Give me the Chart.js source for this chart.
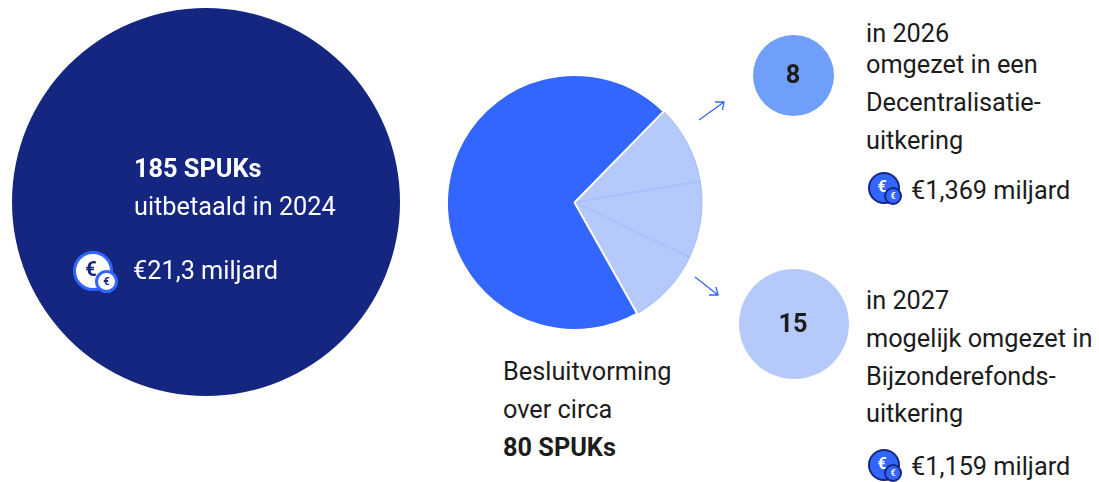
<!DOCTYPE html>
<html><head><meta charset="utf-8">
<script src="https://cdn.jsdelivr.net/npm/chart.js@4"></script>
<style>
html,body{margin:0;padding:0;background:#fff;width:1099px;height:482px;overflow:hidden;font-family:Roboto,sans-serif;color:#1c1c1c}
canvas{position:absolute;display:block}
.t{position:absolute;font-size:25.3px;line-height:37.8px;white-space:nowrap}
.b{font-weight:700}
.c{position:absolute;font-size:25.3px;font-weight:700;line-height:28px;transform:translate(-50%,-50%)}
.icon{position:absolute;border-radius:50%;box-sizing:border-box;display:flex;align-items:center;justify-content:center;font-weight:700}
</style></head><body>
<canvas id="big"></canvas><canvas id="mid"></canvas><canvas id="s8"></canvas><canvas id="s15"></canvas>

<div class="t" style="left:134px;top:150px;color:#fff"><span class="b" id="l185"></span><br><span id="lUit"></span></div>
<div class="t" style="left:133px;top:252px;color:#fff" id="lTot"></div>

<div class="t" style="left:503px;top:353px" id="lBes"></div>

<div class="c" style="left:793px;top:75px" id="n8"></div>
<div class="c" style="left:793px;top:324px" id="n15"></div>

<div class="t" style="left:866px;top:15px" id="l26a"></div>
<div class="t" style="left:866px;top:46px" id="l26"></div>
<div class="t" style="left:911px;top:172px" id="e26"></div>
<div class="t" style="left:866px;top:282px" id="l27"></div>
<div class="t" style="left:911px;top:448px" id="e27"></div>

<div class="icon" style="left:73px;top:251px;width:40px;height:40px;background:#fff;border:3px solid #3366ff;color:#14267f;font-size:20px;padding:0 4px 4px 0">€</div>
<div class="icon" style="left:95px;top:270px;width:23px;height:23px;background:#fff;border:3.5px solid #3366ff;color:#14267f;font-size:11px">€</div>

<div class="icon" style="left:868px;top:172px;width:32px;height:32px;background:#3366ff;border:2px solid #14267f;color:#fff;font-size:16px;padding:0 4px 3px 0">€</div>
<div class="icon" style="left:884px;top:187px;width:18px;height:18px;background:#3366ff;border:2px solid #14267f;color:#fff;font-size:9px">€</div>
<div class="icon" style="left:868px;top:449px;width:32px;height:32px;background:#3366ff;border:2px solid #14267f;color:#fff;font-size:16px;padding:0 4px 3px 0">€</div>
<div class="icon" style="left:884px;top:464px;width:18px;height:18px;background:#3366ff;border:2px solid #14267f;color:#fff;font-size:9px">€</div>

<svg style="position:absolute;left:0;top:0" width="1099" height="482" fill="none" stroke="#3366ff" stroke-width="1.3">
<path d="M699 120L724 102M715 102L724 102L722.500 110"/>
<path d="M695 277L718 295M709 295L718 295L716 287"/>
</svg>

<script>
const totalLabel = "185 SPUKs";
const totalValue = [185];
const splitCategories = ["2026", "2027 a", "2027 b", "Overig"];
const splitValues = [8, 7.8, 7.8, 56.4];
const value2026 = [8];
const value2027 = [15];
const labelsUit = "uitbetaald in 2024";
const amountTotal = "€21,3 miljard";
const besluit = ["Besluitvorming", "over circa", "<b>80 SPUKs</b>"];
const text2026First = "in 2026";
const text2026 = ["omgezet in een", "Decentralisatie-", "uitkering"];
const amount2026 = "€1,369 miljard";
const text2027 = ["in 2027", "mogelijk omgezet in", "Bijzonderefonds-", "uitkering"];
const amount2027 = "€1,159 miljard";

document.getElementById('l185').textContent = totalLabel;
document.getElementById('lUit').textContent = labelsUit;
document.getElementById('lTot').textContent = amountTotal;
document.getElementById('lBes').innerHTML = besluit.join('<br>');
document.getElementById('n8').textContent = value2026[0];
document.getElementById('n15').textContent = value2027[0];
document.getElementById('l26a').textContent = text2026First;
document.getElementById('l26').innerHTML = text2026.join('<br>');
document.getElementById('e26').textContent = amount2026;
document.getElementById('l27').innerHTML = text2027.join('<br>');
document.getElementById('e27').textContent = amount2027;

const K = 14.25;
function pie(id, labels, values, total, cx, cy, colors, borders, widths, rotation) {
  const el = document.getElementById(id);
  const maxB = Math.max(...widths);
  const size = Math.round(2 * Math.sqrt(total) * K + maxB);
  el.width = size; el.height = size;
  el.style.width = size + 'px'; el.style.height = size + 'px';
  el.style.left = (cx - size / 2) + 'px';
  el.style.top = (cy - size / 2) + 'px';
  new Chart(el, {
    type: 'pie',
    data: { labels, datasets: [{ data: values, backgroundColor: colors, borderColor: borders, borderWidth: widths, hoverBorderWidth: 0, hoverOffset: 0 }] },
    options: {
      responsive: false, animation: false, rotation: rotation || 0,
      layout: { padding: 0 },
      plugins: { legend: { display: false }, tooltip: { enabled: false } }
    }
  });
}
pie('big', ['SPUKs 2024'], totalValue, totalValue[0], 205.5, 202, ['#14267f'], ['#14267f'], [0]);
pie('mid', splitCategories, splitValues, splitValues.reduce((a, b) => a + b, 0), 574.5, 202,
  ['#b5c9fb', '#b5c9fb', '#b5c9fb', '#3366ff'],
  ['#a3bbfa', '#a3bbfa', '#a3bbfa', '#ffffff'], [1, 1, 1, 2], 44.4);
pie('s8', ['2026'], value2026, value2026[0], 793.5, 75, ['#6f9ffa'], ['#6f9ffa'], [0]);
pie('s15', ['2027'], value2027, value2027[0], 793.5, 324, ['#b5c9fb'], ['#b5c9fb'], [0]);
</script>
</body></html>
